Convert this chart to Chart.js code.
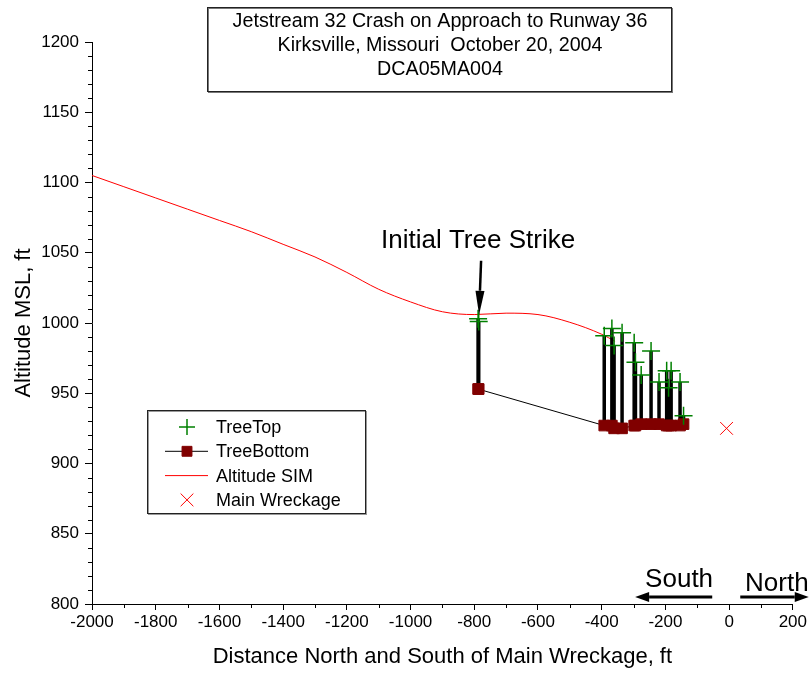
<!DOCTYPE html>
<html>
<head>
<meta charset="utf-8">
<title>Jetstream 32 Crash on Approach to Runway 36</title>
<script src="https://cdn.jsdelivr.net/npm/chart.js@4"></script>
<style>
  html, body { margin: 0; padding: 0; background: #fff; }
</style>
</head>
<body>
<canvas id="crash" width="809" height="673"></canvas>
<script>
const FONT = "'Liberation Sans', Arial, sans-serif";

// simulated flight path (Altitude SIM)
const simDistance = [-2000, -1900, -1800, -1700, -1600, -1500, -1400, -1300, -1200, -1100, -1000, -900, -800, -700, -600, -500, -400, -358];
const simAltitude = [1105, 1097, 1089, 1081, 1073, 1065, 1056, 1047, 1036, 1024, 1015, 1008, 1006, 1007, 1006, 1000.5, 992, 987];

// trees struck along the approach
const treeDistance  = [-788, -786, -392, -368, -361, -336, -298, -294, -276, -245, -220, -196, -190, -182, -154, -143];
const treeTopAlt    = [1003, 1001, 991, 996, 984, 993, 986, 972, 963, 980, 958, 966, 954, 966, 958, 934];
const treeBottomAlt = [953, 953, 927, 927, 925, 925, 927, 927, 928, 928, 928, 927, 927, 927, 927, 928];

// main wreckage location
const wreckDistance = [-8];
const wreckAltitude = [925];

const xMin = -2000, xMax = 200, xStep = 200;
const yMin = 800, yMax = 1200, yStep = 50;

const titleLines = [
  'Jetstream 32 Crash on Approach to Runway 36',
  'Kirksville, Missouri  October 20, 2004',
  'DCA05MA004'
];

const pts = (xs, ys) => xs.map((x, i) => ({ x: x, y: ys[i] }));

// vertical trunk from bottom to top of each tree, broken with nulls
const trunks = [];
treeDistance.forEach((x, i) => {
  trunks.push({ x: x, y: treeBottomAlt[i] }, { x: x, y: treeTopAlt[i] }, { x: x, y: null });
});

// minor ticks between the labelled ones
const minorTicks = {
  id: 'minorTicks',
  afterDraw(chart) {
    const { ctx, scales: { x, y } } = chart;
    ctx.save();
    ctx.strokeStyle = '#000';
    ctx.lineWidth = 1;
    ctx.beginPath();
    for (let v = yMin; v <= yMax; v += 10) {
      if (v % yStep === 0) continue;
      const py = Math.round(y.getPixelForValue(v)) + 0.5;
      ctx.moveTo(x.left - 4, py);
      ctx.lineTo(x.left, py);
    }
    for (let v = xMin; v <= xMax; v += 100) {
      if (v % xStep === 0) continue;
      const px = Math.round(x.getPixelForValue(v)) + 0.5;
      ctx.moveTo(px, y.bottom);
      ctx.lineTo(px, y.bottom + 4);
    }
    ctx.stroke();
    ctx.restore();
  }
};

function arrow(ctx, x1, y1, x2, y2, width, head, halfW) {
  const a = Math.atan2(y2 - y1, x2 - x1);
  const bx = x2 - Math.cos(a) * head, by = y2 - Math.sin(a) * head;
  ctx.lineWidth = width;
  ctx.beginPath();
  ctx.moveTo(x1, y1);
  ctx.lineTo(bx, by);
  ctx.stroke();
  ctx.beginPath();
  ctx.moveTo(x2, y2);
  ctx.lineTo(bx + Math.sin(a) * halfW, by - Math.cos(a) * halfW);
  ctx.lineTo(bx - Math.sin(a) * halfW, by + Math.cos(a) * halfW);
  ctx.closePath();
  ctx.fill();
}

// title box, strike arrow and direction arrows
const notes = {
  id: 'notes',
  afterDraw(chart) {
    const { ctx, scales: { x, y } } = chart;
    ctx.save();
    ctx.fillStyle = '#000';
    ctx.strokeStyle = '#000';

    // title box
    ctx.fillStyle = '#fff';
    ctx.fillRect(207, 7, 465, 84);
    ctx.strokeStyle = '#777';
    ctx.lineWidth = 1;
    ctx.strokeRect(208.5, 8.5, 464, 84);
    ctx.strokeStyle = '#222';
    ctx.strokeRect(207.5, 7.5, 464, 84);
    ctx.fillStyle = '#000';
    ctx.font = '19.7px ' + FONT;
    ctx.textAlign = 'center';
    ctx.textBaseline = 'alphabetic';
    titleLines.forEach((t, i) => ctx.fillText(t, 440, 27 + i * 24));

    // initial tree strike
    const sx = x.getPixelForValue(treeDistance[0]);
    const sy = y.getPixelForValue(treeTopAlt[0]);
    ctx.font = '26px ' + FONT;
    ctx.fillText('Initial Tree Strike', sx, sy - 71);
    ctx.strokeStyle = '#000';
    arrow(ctx, sx + 3, sy - 58, sx + 1, sy - 4, 2.5, 24, 4.5);

    // South / North
    const ay = y.getPixelForValue(805);
    arrow(ctx, x.getPixelForValue(-53), ay, x.getPixelForValue(-295), ay, 3, 14, 5);
    arrow(ctx, x.getPixelForValue(35), ay, x.getPixelForValue(250), ay, 3, 14, 5);
    ctx.font = '26px ' + FONT;
    ctx.textAlign = 'center';
    ctx.fillText('South', x.getPixelForValue(-157), ay - 10);
    ctx.textAlign = 'left';
    ctx.fillText('North', x.getPixelForValue(50), ay - 6);
    ctx.restore();
  }
};

// boxed legend inside the plot
const boxLegend = {
  id: 'boxLegend',
  afterDraw(chart) {
    const { ctx } = chart;
    const left = 147, top = 410, w = 218, h = 103;
    ctx.save();
    ctx.fillStyle = '#fff';
    ctx.fillRect(left, top, w, h);
    ctx.strokeStyle = '#999';
    ctx.lineWidth = 1;
    ctx.strokeRect(left + 1.5, top + 1.5, w, h);
    ctx.strokeStyle = '#222';
    ctx.strokeRect(left + 0.5, top + 0.5, w, h);
    const rows = chart.data.datasets.filter(d => d.inLegend);
    ctx.font = '18px ' + FONT;
    ctx.textBaseline = 'middle';
    rows.forEach((d, i) => {
      const cy = top + 17 + i * 24.3;
      const cx = 187;
      if (d.showLine !== false) {
        ctx.strokeStyle = d.borderColor;
        ctx.lineWidth = d.borderWidth;
        ctx.beginPath();
        ctx.moveTo(165, cy);
        ctx.lineTo(208, cy);
        ctx.stroke();
      }
      if (d.pointRadius > 0) {
        ctx.strokeStyle = d.pointBorderColor;
        ctx.fillStyle = d.pointBackgroundColor;
        ctx.lineWidth = d.pointBorderWidth;
        Chart.helpers.drawPoint(ctx, {
          pointStyle: d.pointStyle,
          radius: d.legendRadius || d.pointRadius,
          rotation: 0,
          borderWidth: d.pointBorderWidth
        }, cx, cy);
      }
      ctx.fillStyle = '#000';
      ctx.fillText(d.label, 216, cy + 1);
    });
    ctx.restore();
  }
};

const plainNumber = v => String(v);

new Chart(document.getElementById('crash'), {
  type: 'line',
  data: {
    datasets: [
      {
        label: 'trunks',
        data: trunks,
        borderColor: '#000',
        borderWidth: 3.5,
        pointRadius: 0,
        spanGaps: false,
        order: 3
      },
      {
        label: 'TreeTop',
        inLegend: true,
        data: pts(treeDistance, treeTopAlt),
        showLine: false,
        pointStyle: 'cross',
        pointRadius: 9,
        legendRadius: 8,
        pointBorderColor: '#008000',
        pointBackgroundColor: '#008000',
        pointBorderWidth: 1.5,
        borderColor: '#008000',
        order: 1
      },
      {
        label: 'TreeBottom',
        inLegend: true,
        data: pts(treeDistance, treeBottomAlt),
        borderColor: '#000',
        borderWidth: 1,
        pointStyle: 'rect',
        pointRadius: 7.5,
        legendRadius: 7,
        pointBorderColor: '#800000',
        pointBackgroundColor: '#800000',
        pointBorderWidth: 1,
        order: 2
      },
      {
        label: 'Altitude SIM',
        inLegend: true,
        data: pts(simDistance, simAltitude),
        borderColor: '#ff0000',
        borderWidth: 1,
        pointRadius: 0,
        cubicInterpolationMode: 'monotone',
        order: 4
      },
      {
        label: 'Main Wreckage',
        inLegend: true,
        data: pts(wreckDistance, wreckAltitude),
        showLine: false,
        pointStyle: 'crossRot',
        pointRadius: 9,
        pointBorderColor: '#ff0000',
        pointBackgroundColor: '#ff0000',
        pointBorderWidth: 1,
        borderColor: '#ff0000',
        order: 0
      }
    ]
  },
  options: {
    responsive: false,
    animation: false,
    layout: { padding: { top: 42, right: 16, left: 0, bottom: 0 } },
    plugins: {
      legend: { display: false },
      title: { display: false },
      tooltip: { enabled: false }
    },
    scales: {
      x: {
        type: 'linear',
        min: xMin,
        max: xMax,
        ticks: { stepSize: xStep, color: '#000', font: { family: FONT, size: 17 }, padding: 2, maxRotation: 0, callback: plainNumber },
        grid: { display: true, drawOnChartArea: false, tickLength: 6, color: '#000', tickColor: '#000' },
        border: { display: true, color: '#000', width: 1 },
        title: {
          display: true,
          text: 'Distance North and South of Main Wreckage, ft',
          color: '#000',
          font: { family: FONT, size: 22 },
          padding: { top: 0, bottom: 3 }
        },
        afterFit(scale) { scale.height = 69; }
      },
      y: {
        min: yMin,
        max: yMax,
        ticks: { stepSize: yStep, color: '#000', font: { family: FONT, size: 17 }, padding: 6, callback: plainNumber },
        grid: { display: true, drawOnChartArea: false, tickLength: 7, color: '#000', tickColor: '#000' },
        border: { display: true, color: '#000', width: 1 },
        title: {
          display: true,
          text: 'Altitude MSL, ft',
          color: '#000',
          font: { family: FONT, size: 22 },
          padding: { top: 11, bottom: 0 }
        },
        afterFit(scale) { scale.width = 92; }
      }
    }
  },
  plugins: [minorTicks, notes, boxLegend]
});
</script>
</body>
</html>
